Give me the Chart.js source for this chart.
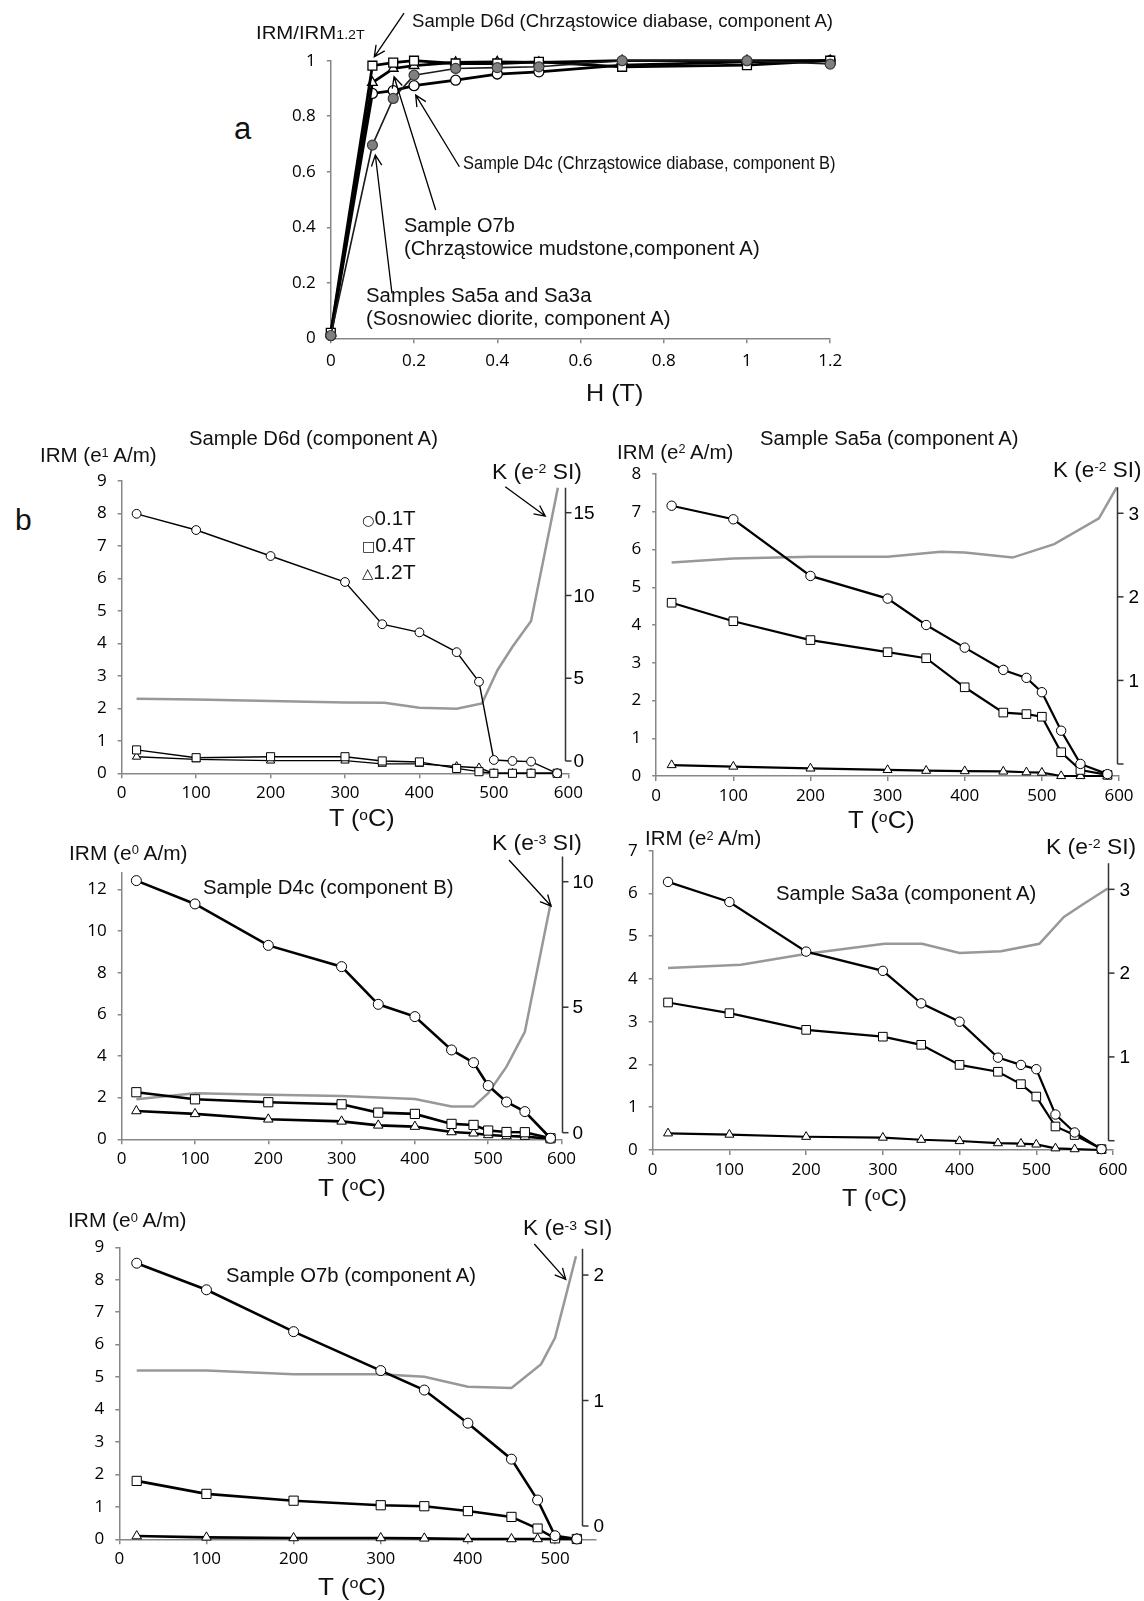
<!DOCTYPE html>
<html>
<head>
<meta charset="utf-8">
<title>IRM acquisition and thermal demagnetisation</title>
<script src="https://cdn.jsdelivr.net/npm/chart.js@4.4.1/dist/chart.umd.min.js"></script>
<style>
  html, body { margin: 0; background: #fff; }
  #page { position: relative; width: 1144px; height: 1601px; overflow: hidden; font-family: "Liberation Sans", Arial, sans-serif; color: #111; }
  #page canvas { position: absolute; }
  .lbl { position: absolute; white-space: nowrap; line-height: 1; transform-origin: 0 50%; z-index: 2; }
  .sup { position: relative; top: -0.42em; font-size: 62%; }
  .sub { font-size: 70%; }
  .sym { font-family: "DejaVu Sans", sans-serif; font-size: 70%; position: relative; top: -0.05em; }
</style>
</head>
<body>
<div id="page"></div>
<script>
// Fig. a - IRM acquisition, normalised to IRM at 1.2 T
const fieldT = [0, 0.1, 0.15, 0.2, 0.3, 0.4, 0.5, 0.7, 1.0, 1.2];
const acqD6d = [0.02, 0.982, 0.993, 1.0, 0.99, 0.99, 0.996, 0.978, 0.984, 1.0];
const acqO7b = [0.018, 0.921, 0.972, 0.982, 0.994, 0.996, 0.994, 1.0, 1.0, 1.0];
const acqD4c = [0.01, 0.882, 0.892, 0.91, 0.93, 0.952, 0.96, 0.984, 0.996, 1.0];
const acqSa = [0.01, 0.696, 0.864, 0.948, 0.972, 0.975, 0.978, 1.0, 1.0, 0.988];

// Fig. b - thermal demagnetisation of 3-axis IRM (0.1T, 0.4T, 1.2T) and K
const tempSteps = [20, 100, 200, 300, 350, 400, 450, 480, 500, 525, 550, 585];
const tempStepsO7b = [20, 100, 200, 300, 350, 400, 450, 480, 500, 525];

const d6d01 = [7.99, 7.49, 6.69, 5.89, 4.59, 4.34, 3.73, 2.82, 0.41, 0.38, 0.36, 0];
const d6d04 = [0.72, 0.48, 0.51, 0.51, 0.38, 0.35, 0.15, 0.05, 0, 0, 0, 0];
const d6d12 = [0.51, 0.43, 0.39, 0.39, 0.29, 0.29, 0.21, 0.17, 0, 0, 0, 0];
const d6dKT = [20, 100, 200, 300, 353, 400, 450, 484, 505, 525, 550, 586];
const d6dK = [3.76, 3.72, 3.62, 3.54, 3.52, 3.22, 3.16, 3.48, 5.5, 6.9, 8.46, 16.5];

const sa5a01 = [7.16, 6.8, 5.3, 4.7, 4.0, 3.4, 2.81, 2.6, 2.22, 1.2, 0.32, 0.05];
const sa5a04 = [4.59, 4.1, 3.6, 3.28, 3.12, 2.35, 1.68, 1.64, 1.57, 0.63, 0.16, 0.03];
const sa5a12 = [0.29, 0.25, 0.2, 0.16, 0.14, 0.13, 0.12, 0.1, 0.09, 0, 0, 0];
const sa5aKT = [20, 100, 200, 300, 369, 400, 462, 516, 574, 597];
const sa5aK = [2.41, 2.46, 2.48, 2.48, 2.54, 2.53, 2.47, 2.63, 2.94, 3.31];

const d4c01 = [12.42, 11.3, 9.31, 8.29, 6.48, 5.89, 4.29, 3.68, 2.58, 1.79, 1.33, 0.05];
const d4c04 = [2.26, 1.92, 1.78, 1.68, 1.28, 1.22, 0.74, 0.69, 0.42, 0.35, 0.34, 0.05];
const d4c12 = [1.36, 1.22, 0.96, 0.86, 0.67, 0.61, 0.35, 0.29, 0.21, 0.16, 0.13, 0.03];
const d4cKT = [20, 100, 200, 300, 400, 450, 480, 500, 525, 550, 585];
const d4cK = [1.33, 1.57, 1.51, 1.46, 1.34, 1.04, 1.04, 1.57, 2.63, 4.02, 9.11];

const sa3a01 = [6.27, 5.8, 4.64, 4.19, 3.43, 3.0, 2.16, 1.99, 1.89, 0.83, 0.41, 0.02];
const sa3a04 = [3.45, 3.2, 2.81, 2.65, 2.46, 1.99, 1.83, 1.54, 1.25, 0.55, 0.35, 0.02];
const sa3a12 = [0.39, 0.36, 0.31, 0.29, 0.24, 0.21, 0.16, 0.15, 0.13, 0.04, 0.02, 0];
const sa3aKT = [20, 115, 201, 302, 351, 400, 454, 504, 536, 559, 593];
const sa3aK = [2.06, 2.1, 2.23, 2.35, 2.35, 2.24, 2.26, 2.35, 2.67, 2.81, 3.01];

const o7b01 = [8.51, 7.69, 6.4, 5.2, 4.6, 3.58, 2.47, 1.21, 0.11, 0.01];
const o7b04 = [1.8, 1.4, 1.19, 1.05, 1.02, 0.87, 0.69, 0.33, 0.03, 0.01];
const o7b12 = [0.1, 0.06, 0.04, 0.04, 0.03, 0.01, 0.01, 0.01, 0.01, 0.01];
const o7bKT = [20, 100, 200, 300, 350, 400, 450, 484, 500, 513, 524];
const o7bK = [1.24, 1.24, 1.21, 1.21, 1.19, 1.11, 1.10, 1.29, 1.5, 1.85, 2.15];

const page = document.getElementById('page');
const axisGrey = '#878787';

function pts(xs, ys) {
  return xs.map((x, i) => ({ x, y: ys[i] }));
}

function fmt(v) {
  return String(Math.round(v * 100) / 100);
}

function label(html, left, y, size, width) {
  const d = document.createElement('div');
  d.className = 'lbl';
  d.innerHTML = html;
  d.style.left = left + 'px';
  d.style.top = y + 'px';
  d.style.fontSize = size + 'px';
  page.appendChild(d);
  let tf = 'translateY(-50%)';
  if (width) tf += ' scaleX(' + (width / d.getBoundingClientRect().width).toFixed(3) + ')';
  d.style.transform = tf;
}

// secondary susceptibility axis, drawn only over its own range
function kAxisPlugin(k) {
  return {
    id: 'kAxis',
    afterDatasetsDraw(chart) {
      if (!k) return;
      const ctx = chart.ctx, xs = chart.scales.x, ks = chart.scales.k;
      const x = Math.round(xs.getPixelForValue(k.at)) + 0.5;
      ctx.save();
      ctx.strokeStyle = '#333';
      ctx.lineWidth = 1.5;
      ctx.beginPath();
      ctx.moveTo(x, ks.getPixelForValue(0));
      ctx.lineTo(x, ks.getPixelForValue(k.top));
      ctx.stroke();
      ctx.font = '19px "Liberation Sans", Arial, sans-serif';
      ctx.textBaseline = 'middle';
      ctx.fillStyle = '#000';
      k.ticks.forEach(t => {
        const y = ks.getPixelForValue(t);
        ctx.beginPath();
        ctx.moveTo(x, y);
        ctx.lineTo(x + 6, y);
        ctx.stroke();
        if (k.labels.includes(t)) ctx.fillText(String(t), x + k.gap, y + 1);
      });
      ctx.restore();
    }
  };
}

function arrowPlugin(list) {
  return {
    id: 'arrows',
    afterDatasetsDraw(chart) {
      const ctx = chart.ctx, xs = chart.scales.x, ys = chart.scales.y;
      ctx.save();
      ctx.strokeStyle = '#000';
      ctx.lineWidth = 1.3;
      list.forEach(a => {
        const x1 = xs.getPixelForValue(a[0]), y1 = ys.getPixelForValue(a[1]);
        const x2 = xs.getPixelForValue(a[2]), y2 = ys.getPixelForValue(a[3]);
        const ang = Math.atan2(y2 - y1, x2 - x1);
        ctx.beginPath();
        ctx.moveTo(x1, y1);
        ctx.lineTo(x2, y2);
        ctx.moveTo(x2 - 12 * Math.cos(ang - 0.45), y2 - 12 * Math.sin(ang - 0.45));
        ctx.lineTo(x2, y2);
        ctx.lineTo(x2 - 12 * Math.cos(ang + 0.45), y2 - 12 * Math.sin(ang + 0.45));
        ctx.stroke();
      });
      ctx.restore();
    }
  };
}

function demagSets(t, s01, s04, s12, kT, k, lw, r) {
  const base = {
    showLine: true, borderColor: '#000', borderWidth: lw, tension: 0, clip: false,
    pointBackgroundColor: '#fff', pointBorderColor: '#000', pointBorderWidth: 1
  };
  return [
    { ...base, data: pts(t, s01), pointStyle: 'circle', pointRadius: r },
    { ...base, data: pts(t, s04), pointStyle: 'rect', pointRadius: r * 1.3 },
    { ...base, data: pts(t, s12), pointStyle: 'triangle', pointRadius: r * 1.1 },
    { showLine: true, clip: false, data: pts(kT, k), yAxisID: 'k', borderColor: '#989898', borderWidth: 2.5, pointRadius: 0, order: 5 }
  ];
}

function panel(p) {
  const cx = Math.max(0, Math.floor(p.L) - 70);
  const cy = Math.max(0, Math.floor(p.T) - 70);
  const right = Math.min(1144, Math.ceil(p.R) + 55);
  const bottom = Math.ceil(p.B) + 45;
  const cw = right - cx, ch = bottom - cy;
  const cv = document.createElement('canvas');
  cv.width = cw;
  cv.height = ch;
  Object.assign(cv.style, { left: cx + 'px', top: cy + 'px', width: cw + 'px', height: ch + 'px' });
  page.appendChild(cv);

  const tickFont = { family: 'Open Sans', size: 17 };
  const scales = {
    x: {
      type: 'linear', min: p.x[0], max: p.x[1],
      afterFit: s => { s.height = bottom - p.B; },
      ticks: { stepSize: p.x[2], includeBounds: false, autoSkip: false, maxRotation: 0, padding: p.xPad || 5, color: '#000', font: tickFont, callback: fmt },
      grid: { drawOnChartArea: false, drawTicks: true, tickLength: 5, color: axisGrey, lineWidth: 1.5 },
      border: { color: axisGrey, width: 1.5 }
    },
    y: {
      type: 'linear', position: 'left', min: p.y[0], max: p.y[1],
      afterFit: s => { s.width = p.L - cx; },
      ticks: { stepSize: p.y[2], includeBounds: false, autoSkip: false, padding: 11, color: '#000', font: tickFont, callback: fmt },
      grid: { drawOnChartArea: false, drawTicks: true, tickLength: 4, color: axisGrey, lineWidth: 1.5 },
      border: { color: axisGrey, width: 1.5 }
    }
  };
  if (p.k) scales.k = { type: 'linear', display: false, min: p.k.min, max: p.k.max };

  new Chart(cv, {
    type: 'scatter',
    data: { datasets: p.sets },
    options: {
      responsive: false,
      animation: false,
      events: [],
      layout: { padding: { left: 0, top: p.T - cy, right: right - p.R, bottom: 0 } },
      plugins: { legend: { display: false }, tooltip: { enabled: false } },
      scales
    },
    plugins: [kAxisPlugin(p.k), arrowPlugin(p.arrows || [])]
  });
}

// a
const openPt = { pointBackgroundColor: '#fff', pointBorderColor: '#000', pointBorderWidth: 1.3, borderColor: '#000', borderWidth: 2.8, showLine: true, tension: 0, clip: false };
panel({
  L: 330.8, R: 830.2, T: 60.7, B: 338.3, x: [0, 1.2, 0.2], y: [0, 1, 0.2], xPad: 8,
  sets: [
    { data: pts(fieldT, acqSa), showLine: true, clip: false, pointStyle: 'circle', pointRadius: 5, pointBackgroundColor: '#808080', pointBorderColor: '#3a3a3a', pointBorderWidth: 1.2, borderColor: '#1a1a1a', borderWidth: 1.6 },
    { ...openPt, data: pts(fieldT, acqD6d), pointStyle: 'rect', pointRadius: 6.3 },
    { ...openPt, data: pts(fieldT, acqO7b), pointStyle: 'triangle', pointRadius: 5.6 },
    { ...openPt, data: pts(fieldT, acqD4c), pointStyle: 'circle', pointRadius: 5 }
  ],
  arrows: [
    [0.176, 1.171, 0.1045, 1.014],
    [0.309, 0.618, 0.204, 0.876],
    [0.252, 0.462, 0.152, 0.942],
    [0.147, 0.162, 0.107, 0.660]
  ]
});

// b: D6d
panel({
  L: 121.7, R: 568.3, T: 481, B: 773.3, x: [0, 600, 100], y: [0, 9, 1],
  k: { min: -0.743, max: 16.915, at: 595, top: 16.5, ticks: [0, 5, 10, 15], labels: [0, 5, 10, 15], gap: 8 },
  sets: demagSets(tempSteps, d6d01, d6d04, d6d12, d6dKT, d6dK, 1.4, 4.4),
  arrows: [[515.3, 8.82, 569.1, 7.92]]
});

// b: Sa5a
panel({
  L: 656.2, R: 1119, T: 474, B: 776, x: [0, 600, 100], y: [0, 8, 1],
  k: { min: -0.1436, max: 3.47, at: 597, top: 3.31, ticks: [0, 1, 2, 3], labels: [1, 2, 3], gap: 11 },
  sets: demagSets(tempSteps, sa5a01, sa5a04, sa5a12, sa5aKT, sa5aK, 2.2, 4.7)
});

// b: D4c
panel({
  L: 121.7, R: 561.5, T: 872.7, B: 1139.3, x: [0, 600, 100], y: [0, 12.8, 2],
  k: { min: -0.263, max: 10.359, at: 600, top: 11, ticks: [0, 5, 10], labels: [0, 5, 10], gap: 10 },
  sets: demagSets(tempSteps, d4c01, d4c04, d4c12, d4cKT, d4cK, 2.6, 5),
  arrows: [[528.4, 13.41, 585.8, 11.2]]
});

// b: Sa3a
panel({
  L: 652.7, R: 1113, T: 850.7, B: 1150, x: [0, 600, 100], y: [0, 7, 1],
  k: { min: -0.111, max: 3.461, at: 593, top: 3.31, ticks: [0, 1, 2, 3], labels: [1, 2, 3], gap: 11 },
  sets: demagSets(tempSteps, sa3a01, sa3a04, sa3a12, sa3aKT, sa3aK, 2.2, 4.7)
});

// b: O7b
panel({
  L: 119.3, R: 596, T: 1247.3, B: 1539.3, x: [0, 547, 100], y: [0, 9, 1],
  k: { min: -0.106, max: 2.221, at: 530.8, top: 2.21, ticks: [0, 1, 2], labels: [0, 1, 2], gap: 11 },
  sets: demagSets(tempStepsO7b, o7b01, o7b04, o7b12, o7bKT, o7bK, 2.6, 5),
  arrows: [[476.2, 9.10, 512.3, 8.01]]
});

// text
label('IRM/IRM<span class="sub">1.2T</span>', 255.7, 33.3, 18, 108.7);
label('a', 234, 128, 31);
label('Sample D6d (Chrząstowice diabase, component A)', 411.9, 20.7, 18.5, 421);
label('Sample D4c (Chrząstowice diabase, component B)', 462.5, 163.3, 18, 372.5);
label('Sample O7b', 404, 225, 20, 110.7);
label('(Chrząstowice mudstone,component A)', 404, 248.3, 20, 355.8);
label('Samples Sa5a and Sa3a', 366.4, 295, 20, 225.4);
label('(Sosnowiec diorite, component A)', 366.4, 318.3, 20, 304.5);
label('H (T)', 585.9, 393, 24, 57.3);

label('b', 15, 520, 30);
label('Sample D6d (component A)', 189.4, 438.3, 20, 248.8);
label('IRM (e<span class="sup">1</span> A/m)', 40.2, 455, 20, 116.7);
label('K (e<span class="sup">-2</span> SI)', 491.8, 471.7, 22, 89.9);
label('<span class="sym">○</span>0.1T', 361.6, 518.3, 20, 53.6);
label('<span class="sym">□</span>0.4T', 361.6, 545, 20, 53.6);
label('<span class="sym">△</span>1.2T', 361.6, 571.7, 20, 53.6);
label('T (<span class="sup">o</span>C)', 329.3, 818.3, 24, 65.7);

label('Sample Sa5a (component A)', 759.6, 438.3, 20, 258.5);
label('IRM (e<span class="sup">2</span> A/m)', 617.3, 451.7, 20, 116.3);
label('K (e<span class="sup">-2</span> SI)', 1052.8, 470, 22, 88.5);
label('T (<span class="sup">o</span>C)', 848.3, 820, 24, 66.7);

label('Sample D4c (component B)', 202.8, 887.3, 20, 250.7);
label('IRM (e<span class="sup">0</span> A/m)', 68.9, 852.7, 20, 118.6);
label('K (e<span class="sup">-3</span> SI)', 491.8, 842.7, 22, 89.9);
label('T (<span class="sup">o</span>C)', 317.5, 1188.3, 24, 67.9);

label('Sample Sa3a (component A)', 776.3, 893.3, 20, 260.2);
label('IRM (e<span class="sup">2</span> A/m)', 645.1, 838.3, 20, 116.2);
label('K (e<span class="sup">-2</span> SI)', 1045.9, 846.7, 22, 90.2);
label('T (<span class="sup">o</span>C)', 841.7, 1198.3, 24, 65);

label('Sample O7b (component A)', 226.4, 1275, 20, 250);
label('IRM (e<span class="sup">0</span> A/m)', 68.4, 1220, 20, 118.6);
label('K (e<span class="sup">-3</span> SI)', 522.9, 1228.3, 22, 89.2);
label('T (<span class="sup">o</span>C)', 317.5, 1586.7, 24, 67.9);
</script>
</body>
</html>
